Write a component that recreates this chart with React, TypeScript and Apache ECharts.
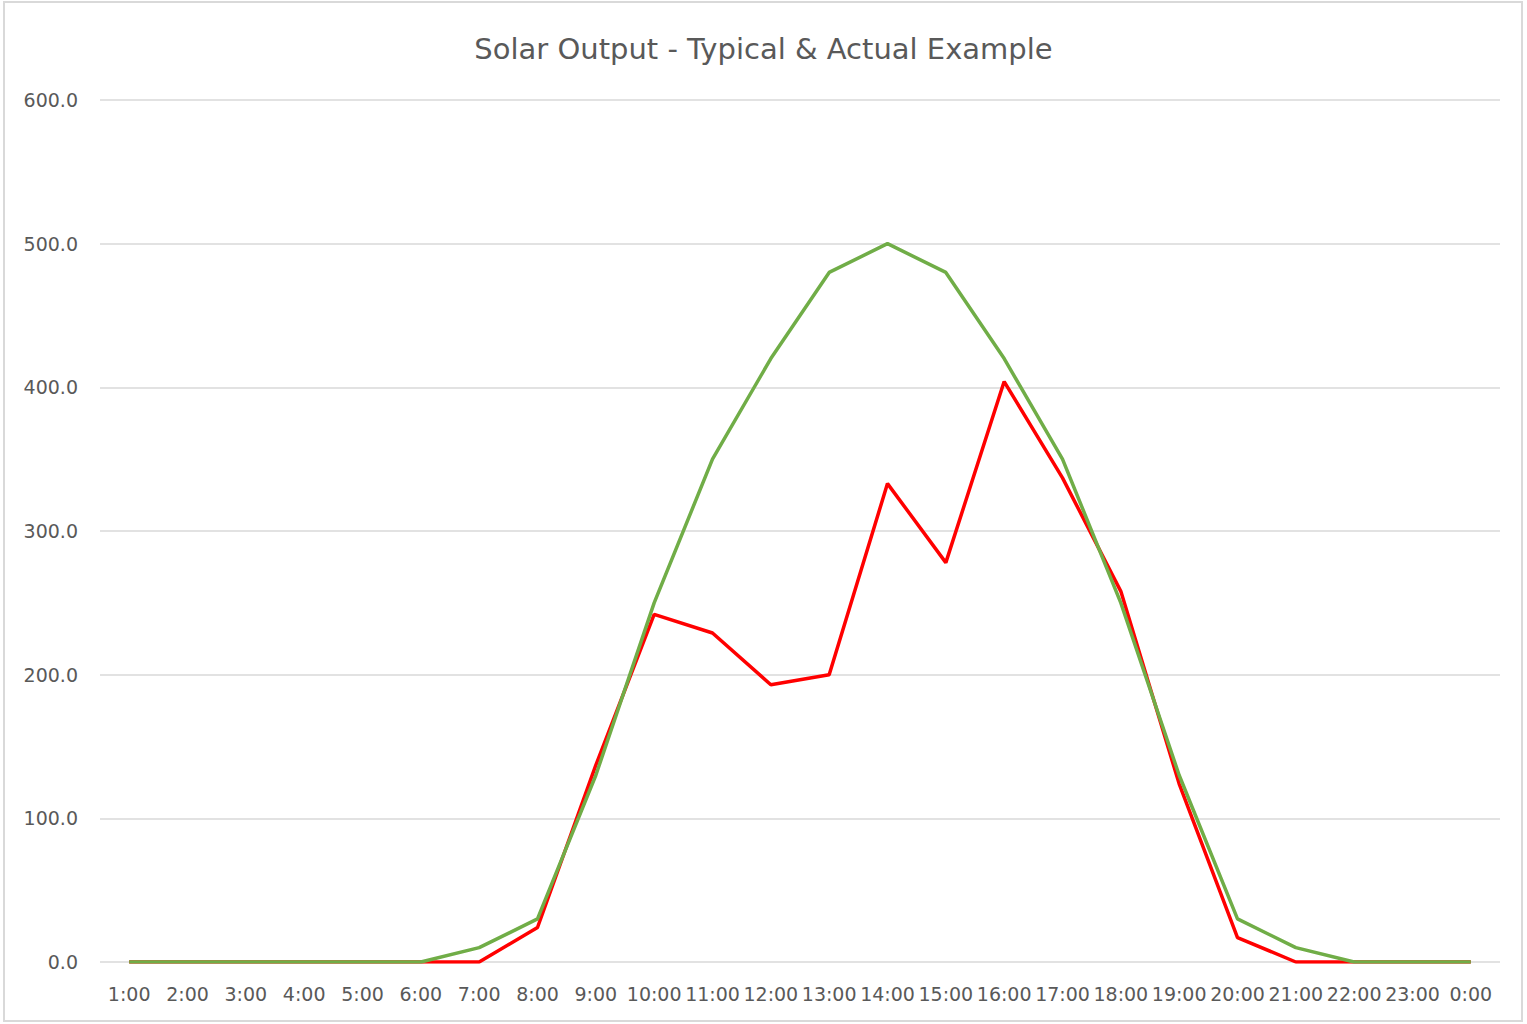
import React, { useEffect, useRef } from "react";
import * as echarts from "echarts";

const hours = ["1:00","2:00","3:00","4:00","5:00","6:00","7:00","8:00","9:00","10:00","11:00","12:00","13:00","14:00","15:00","16:00","17:00","18:00","19:00","20:00","21:00","22:00","23:00","0:00"];
const typical = [0,0,0,0,0,0,10,30,130,250,350,420,480,500,480,420,350,250,130,30,10,0,0,0];
const actual = [0,0,0,0,0,0,0,24,137,242,229,193,200,333,278,404,337,258,124,17,0,0,0,0];
const titleText = "Solar Output - Typical & Actual Example";

export default function App() {
  const ref = useRef<HTMLDivElement>(null);
  useEffect(() => {
    const chart = echarts.init(ref.current!, null, { renderer: "svg" });
    chart.setOption({
      animation: false,
      backgroundColor: "#ffffff",
      title: {
        text: titleText,
        left: "center",
        top: 29,
        textStyle: { fontFamily: "DejaVu Sans", fontSize: 29, fontWeight: "normal", color: "#595959" },
      },
      graphic: [
        {
          type: "rect",
          shape: { x: 4, y: 2, width: 1518, height: 1019 },
          style: { fill: "none", stroke: "#d9d9d9", lineWidth: 2 },
          silent: true,
        },
      ],
      grid: { left: 100, right: 27, top: 100, bottom: 62, containLabel: false },
      xAxis: {
        type: "category",
        data: hours,
        boundaryGap: true,
        axisLine: { show: false },
        axisTick: { show: false },
        axisLabel: { interval: 0, margin: 22, fontFamily: "DejaVu Sans", fontSize: 19, color: "#595959" },
        splitLine: { show: false },
      },
      yAxis: {
        type: "value",
        min: 0,
        max: 600,
        interval: 100,
        axisLine: { show: false },
        axisTick: { show: false },
        axisLabel: {
          margin: 22,
          fontFamily: "DejaVu Sans",
          fontSize: 19,
          color: "#595959",
          formatter: (v: number) => v.toFixed(1),
        },
        splitLine: { lineStyle: { color: "#d9d9d9", width: 1.5 } },
      },
      series: [
        {
          name: "Actual",
          type: "line",
          data: actual,
          showSymbol: false,
          lineStyle: { color: "#ff0000", width: 3.5 },
          itemStyle: { color: "#ff0000" },
        },
        {
          name: "Typical",
          type: "line",
          data: typical,
          showSymbol: false,
          lineStyle: { color: "#70ad47", width: 3.5 },
          itemStyle: { color: "#70ad47" },
        },
      ],
    });
    return () => chart.dispose();
  }, []);
  return <div ref={ref} style={{ position: "fixed", left: 0, top: 0, width: 1527, height: 1024 }} />;
}
